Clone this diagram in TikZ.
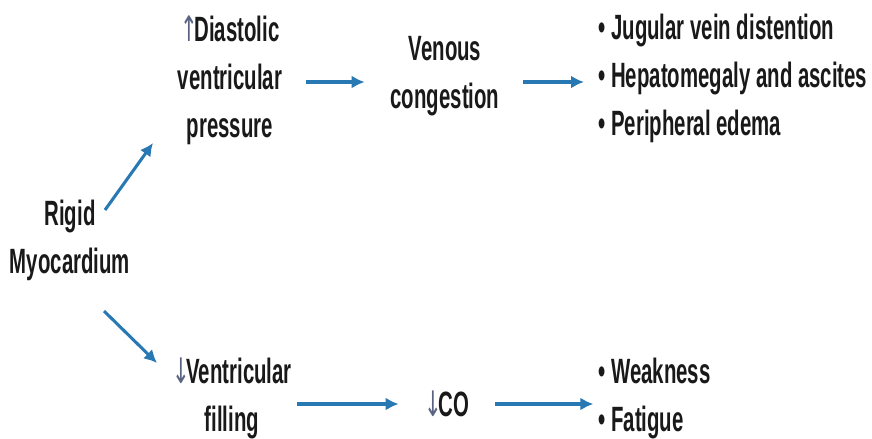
\documentclass[tikz,border=0pt]{standalone}
\usepackage{fontspec}
\setmainfont{Liberation Sans}[FakeStretch=0.58]
\newfontfamily\symfont{DejaVu Sans}[FakeStretch=0.6]
\usetikzlibrary{arrows.meta}
\definecolor{arrowblue}{RGB}{40,120,180}
\definecolor{symcol}{RGB}{90,100,130}

\tikzset{
    txt/.style={font=\bfseries\fontsize{30}{41}\selectfont, text=black!90, inner sep=0pt, align=center},
    lst/.style={txt, align=left},
    flow/.style={arrowblue, line width=2.6pt, -{Latex[length=11pt,width=11pt]}}
}
\newcommand{\upsym}{{\symfont\mdseries\color{symcol}↑}\kern-3pt}
\newcommand{\downsym}{{\symfont\mdseries\color{symcol}↓}\kern-3pt}

\begin{document}
\begin{tikzpicture}[x=0.03cm, y=-0.03cm]
    \useasboundingbox (0,0) rectangle (872,438);
    %\draw[very thin,color=gray] (0,0) grid[step=50] (872,438);
    \node[txt] (rigid) at (70,240) {Rigid\\Myocardium};
    \node[txt] (press) at (230,80) {\upsym Diastolic\\ventricular\\pressure};
    \node[txt] (venous) at (445,76) {Venous\\congestion};
    \node[lst, anchor=west] (signs) at (598,78) {\textbullet\,Jugular vein distention\\\textbullet\,Hepatomegaly and ascites\\\textbullet\,Peripheral edema};
    \node[txt] (fill) at (232,398) {\downsym Ventricular\\filling};
    \node[txt] (co) at (447,404) {\downsym CO};
    \node[lst, anchor=west] (sympt) at (598,398) {\textbullet\,Weakness\\\textbullet\,Fatigue};

    \coordinate (a1) at (105,210);
    \coordinate (a2) at (153,143);
    \coordinate (b1) at (104,311);
    \coordinate (b2) at (157,363);

    \draw[flow] (a1) -- (a2);
    \draw[flow] (b1) -- (b2);
    \draw[flow] ([xshift=20pt]press.east |- 0,82) -- ([xshift=-22pt]venous.west |- 0,82);
    \draw[flow] ([xshift=20pt]venous.east |- 0,82) -- ([xshift=-12pt]signs.west |- 0,82);
    \draw[flow] (297,404) -- ([xshift=-22pt]co.west |- 0,404);
    \draw[flow] ([xshift=22pt]co.east |- 0,404) -- ([xshift=-4pt]sympt.west |- 0,404);
\end{tikzpicture}
\end{document}
